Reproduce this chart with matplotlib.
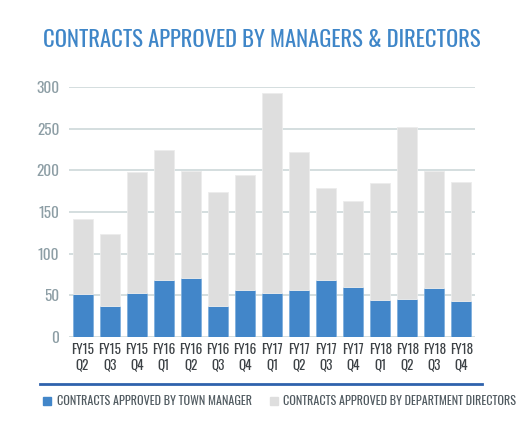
import matplotlib
matplotlib.use("Agg")
from matplotlib import pyplot as plt
from matplotlib.patches import Rectangle
from matplotlib.lines import Line2D

quarters = ["FY15\nQ2", "FY15\nQ3", "FY15\nQ4", "FY16\nQ1", "FY16\nQ2", "FY16\nQ3", "FY16\nQ4",
            "FY17\nQ1", "FY17\nQ2", "FY17\nQ3", "FY17\nQ4", "FY18\nQ1", "FY18\nQ2", "FY18\nQ3", "FY18\nQ4"]
town_manager = [52, 37, 53, 69, 71, 37, 56, 53, 57, 68, 60, 44, 46, 59, 43]
totals = [142, 124, 198, 224, 199, 174, 195, 293, 222, 179, 163, 185, 252, 199, 186]
dept_directors = [t - m for t, m in zip(totals, town_manager)]
y_ticks = [0, 50, 100, 150, 200, 250, 300]

BLUE = "#4286c9"
GRAY = "#dedede"
TITLE_FONT = ["Oswald", "DejaVu Sans"]
FONT = ["Oswald", "Roboto Condensed", "DejaVu Sans"]

plt.rcParams['font.family'] = FONT

fig = plt.figure(figsize=(5.25, 4.29), dpi=100)
ax = fig.add_axes([69/525, 1 - 337/429, 406/525, 250/429])

x = range(len(quarters))
ax.bar(x, town_manager, width=0.74, color=BLUE, edgecolor="#7fb0de", linewidth=0.6, zorder=3)
ax.bar(x, dept_directors, bottom=town_manager, width=0.74, color=GRAY,
       edgecolor="#ececec", linewidth=0.6, zorder=3)

ax.set_xlim(-0.5, len(quarters) - 0.5)
ax.set_ylim(0, 300)
ax.set_yticks(y_ticks)
ax.set_xticks(list(x))
ax.set_xticklabels(quarters, fontsize=9.5, color="#3d4246", fontweight="light", linespacing=1.3)
ax.tick_params(axis="y", labelsize=11, colors="#8d9ea5", length=0, pad=7)
ax.tick_params(axis="x", length=0, pad=4)
for lab in ax.get_yticklabels():
    lab.set_fontweight("light")
ax.grid(axis="y", color="#cdd8d9", linewidth=1.2, zorder=0)
for s in ax.spines.values():
    s.set_visible(False)

fig.text(262/525, 1 - 40/429, "CONTRACTS APPROVED BY MANAGERS & DIRECTORS", ha="center", va="center",
         fontsize=16.3, fontweight="medium", color="#3f86c8", family=TITLE_FONT)

fig.add_artist(Line2D([40/525, 482/525], [1 - 384/429] * 2, color="#2f62ad", linewidth=2))

fig.add_artist(Rectangle((43/525, 1 - 405/429), 8/525, 8/429, color=BLUE))
fig.text(57/525, 1 - 401/429, "CONTRACTS APPROVED BY TOWN MANAGER", va="center",
         fontsize=8.7, fontweight="light", color="#505a60")
fig.add_artist(Rectangle((270/525, 1 - 405/429), 8/525, 8/429, color=GRAY))
fig.text(283/525, 1 - 401/429, "CONTRACTS APPROVED BY DEPARTMENT DIRECTORS", va="center",
         fontsize=8.7, fontweight="light", color="#505a60")

fig.savefig("out.png", dpi=100)
